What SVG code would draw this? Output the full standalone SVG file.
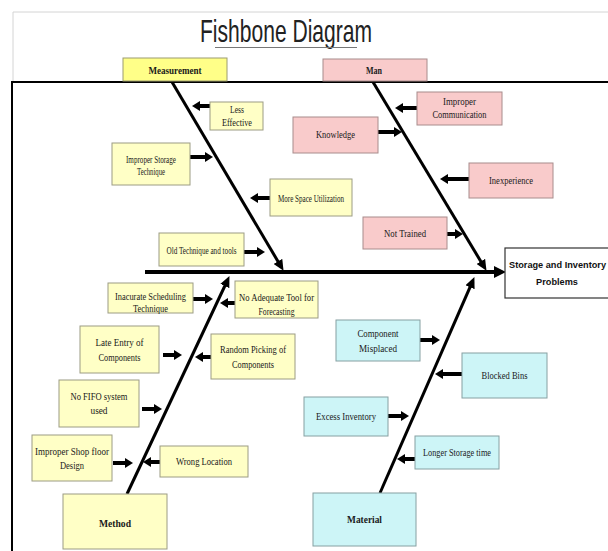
<svg xmlns="http://www.w3.org/2000/svg" width="608" height="551" viewBox="0 0 608 551">
<style>
.yb{fill:#FFFFC6;stroke:#9c9c84;stroke-width:1}
.ym{fill:#FFFF88;stroke:#9c9c70;stroke-width:1}
.pb{fill:#F9CBCB;stroke:#a88c8c;stroke-width:1}
.cb{fill:#CDF5F7;stroke:#86a0a2;stroke-width:1}
.wb{fill:#fff;stroke:#333;stroke-width:1.2}
.t{font-family:'Liberation Serif','Times New Roman',serif;font-size:10px;fill:#1a1a1a;text-anchor:middle}
.tb{font-weight:bold;font-size:11px}
.ts{font-family:'Liberation Sans',Arial,sans-serif;font-weight:bold;font-size:9.2px;fill:#111}
.spine{stroke:#000;stroke-width:3;fill:none;marker-end:url(#sh)}
.arr{stroke:#000;stroke-width:4;fill:none;marker-end:url(#ah)}
</style>
<defs>
<marker id="ah" markerUnits="userSpaceOnUse" viewBox="0 0 8 10" markerWidth="8" markerHeight="10" refX="4" refY="5" orient="auto"><path d="M0,0 L8,5 L0,10 z" fill="#000"/></marker>
<marker id="sh" markerUnits="userSpaceOnUse" viewBox="0 0 11 10" markerWidth="11" markerHeight="10" refX="5" refY="5" orient="auto"><path d="M0,0 L11,5 L0,10 z" fill="#000"/></marker>
<marker id="mh" markerUnits="userSpaceOnUse" viewBox="0 0 12 12" markerWidth="12" markerHeight="12" refX="6" refY="6" orient="auto"><path d="M0,0 L12,6 L0,12 z" fill="#000"/></marker>
</defs>
<rect width="608" height="551" fill="#fff"/>
<path d="M13,82 V12 H608" fill="none" stroke="#d4d4d4" stroke-width="1"/>
<g id="title">
<text x="200" y="42" textLength="172" lengthAdjust="spacingAndGlyphs" font-family="'Liberation Sans',Arial,sans-serif" font-size="32" fill="#222">Fishbone Diagram</text>
<line x1="215" y1="47.5" x2="357" y2="47.5" stroke="#777" stroke-width="1"/>
</g>
<path id="frame" d="M12,551 V82 H608" fill="none" stroke="#000" stroke-width="2"/>
<g id="connectors">
<line x1="145" y1="272" x2="500" y2="272" stroke="#000" stroke-width="4" marker-end="url(#mh)"/>
<line class="spine" x1="172" y1="82" x2="280.5" y2="265.7"/>
<line class="spine" x1="373" y1="82" x2="483.4" y2="265.7"/>
<line class="spine" x1="127" y1="494" x2="226.9" y2="281.5"/>
<line class="spine" x1="380" y1="493" x2="472" y2="282.6"/>
<line class="arr" x1="210" y1="106" x2="196" y2="106"/>
<line class="arr" x1="190" y1="157" x2="209" y2="157"/>
<line class="arr" x1="270" y1="198" x2="254" y2="198"/>
<line class="arr" x1="244" y1="252" x2="261" y2="252"/>
<line class="arr" x1="417" y1="108" x2="399" y2="108"/>
<line class="arr" x1="378" y1="132" x2="398" y2="132"/>
<line class="arr" x1="469" y1="179" x2="444" y2="179"/>
<line class="arr" x1="447" y1="234" x2="459" y2="234"/>
<line class="arr" x1="193" y1="299" x2="209" y2="299"/>
<line class="arr" x1="235" y1="303" x2="224" y2="303"/>
<line class="arr" x1="163" y1="355" x2="178" y2="355"/>
<line class="arr" x1="211" y1="357" x2="199" y2="357"/>
<line class="arr" x1="142" y1="409" x2="158" y2="409"/>
<line class="arr" x1="113" y1="463" x2="129" y2="463"/>
<line class="arr" x1="160" y1="462" x2="147" y2="462"/>
<line class="arr" x1="420" y1="340" x2="436" y2="340"/>
<line class="arr" x1="462" y1="374" x2="439" y2="374"/>
<line class="arr" x1="388" y1="416" x2="405" y2="416"/>
<line class="arr" x1="415" y1="459" x2="401" y2="459"/>
</g>
<g id="measurement"><rect class="ym" x="123" y="58" width="104" height="23"/><text class="t tb" x="175" y="74" textLength="53" lengthAdjust="spacingAndGlyphs">Measurement</text></g>
<g id="man"><rect class="pb" x="323" y="59" width="104" height="22"/><text class="t tb" x="374" y="74" textLength="16" lengthAdjust="spacingAndGlyphs">Man</text></g>
<g id="less-effective"><rect class="yb" x="210" y="102" width="53" height="28"/><text class="t" x="237" y="113" textLength="14" lengthAdjust="spacingAndGlyphs">Less</text><text class="t" x="237" y="126" textLength="30" lengthAdjust="spacingAndGlyphs">Effective</text></g>
<g id="improper-storage"><rect class="yb" x="112" y="143" width="78" height="42"/><text class="t" x="151" y="163" textLength="50" lengthAdjust="spacingAndGlyphs">Improper Storage</text><text class="t" x="151" y="175" textLength="28" lengthAdjust="spacingAndGlyphs">Technique</text></g>
<g id="more-space"><rect class="yb" x="270" y="179" width="82" height="37"/><text class="t" x="311" y="202" textLength="66" lengthAdjust="spacingAndGlyphs">More Space Utilization</text></g>
<g id="old-technique"><rect class="yb" x="159" y="233" width="85" height="33"/><text class="t" x="201.5" y="254" textLength="70" lengthAdjust="spacingAndGlyphs">Old Technique and tools</text></g>
<g id="improper-communication"><rect class="pb" x="417" y="92" width="85" height="33"/><text class="t" x="459.5" y="105" textLength="33" lengthAdjust="spacingAndGlyphs">Improper</text><text class="t" x="459.5" y="118" textLength="54" lengthAdjust="spacingAndGlyphs">Communication</text></g>
<g id="knowledge"><rect class="pb" x="293" y="117" width="85" height="36"/><text class="t" x="335.5" y="138" textLength="39" lengthAdjust="spacingAndGlyphs">Knowledge</text></g>
<g id="inexperience"><rect class="pb" x="469" y="163" width="84" height="35"/><text class="t" x="511" y="184" textLength="44" lengthAdjust="spacingAndGlyphs">Inexperience</text></g>
<g id="not-trained"><rect class="pb" x="363" y="217" width="84" height="32"/><text class="t" x="405" y="237" textLength="42" lengthAdjust="spacingAndGlyphs">Not Trained</text></g>
<g id="problem"><rect class="wb" x="505" y="248" width="115" height="50"/><text class="ts" x="509" y="268">Storage and Inventory</text><text class="ts" x="557" y="285" text-anchor="middle">Problems</text></g>
<g id="inacurate-scheduling"><rect class="yb" x="108" y="283" width="85" height="30"/><text class="t" x="150.5" y="300" textLength="71" lengthAdjust="spacingAndGlyphs">Inacurate Scheduling</text><text class="t" x="150.5" y="311.5" textLength="35" lengthAdjust="spacingAndGlyphs">Technique</text></g>
<g id="no-adequate-tool"><rect class="yb" x="235" y="281" width="83" height="37"/><text class="t" x="276.5" y="301" textLength="75" lengthAdjust="spacingAndGlyphs">No Adequate Tool for</text><text class="t" x="276.5" y="315" textLength="36" lengthAdjust="spacingAndGlyphs">Forecasting</text></g>
<g id="late-entry"><rect class="yb" x="80" y="326" width="79" height="47"/><text class="t" x="119.5" y="346" textLength="48" lengthAdjust="spacingAndGlyphs">Late Entry of</text><text class="t" x="119.5" y="361" textLength="42" lengthAdjust="spacingAndGlyphs">Components</text></g>
<g id="random-picking"><rect class="yb" x="211" y="334" width="84" height="45"/><text class="t" x="253" y="353" textLength="66" lengthAdjust="spacingAndGlyphs">Random Picking of</text><text class="t" x="253" y="368" textLength="42" lengthAdjust="spacingAndGlyphs">Components</text></g>
<g id="no-fifo"><rect class="yb" x="59" y="380" width="80" height="47"/><text class="t" x="99" y="400" textLength="57" lengthAdjust="spacingAndGlyphs">No FIFO system</text><text class="t" x="99" y="414" textLength="17" lengthAdjust="spacingAndGlyphs">used</text></g>
<g id="improper-shop-floor"><rect class="yb" x="32" y="435" width="80" height="46"/><text class="t" x="72" y="455" textLength="74" lengthAdjust="spacingAndGlyphs">Improper Shop floor</text><text class="t" x="72" y="469" textLength="24" lengthAdjust="spacingAndGlyphs">Design</text></g>
<g id="wrong-location"><rect class="yb" x="160" y="446" width="88" height="31"/><text class="t" x="204" y="465" textLength="56" lengthAdjust="spacingAndGlyphs">Wrong Location</text></g>
<g id="method"><rect class="yb" x="63" y="494" width="104" height="55"/><text class="t tb" x="115" y="527" textLength="32" lengthAdjust="spacingAndGlyphs">Method</text></g>
<g id="component-misplaced"><rect class="cb" x="336" y="320" width="84" height="41"/><text class="t" x="378" y="337" textLength="41" lengthAdjust="spacingAndGlyphs">Component</text><text class="t" x="378" y="352" textLength="38" lengthAdjust="spacingAndGlyphs">Misplaced</text></g>
<g id="blocked-bins"><rect class="cb" x="462" y="353" width="85" height="45"/><text class="t" x="504.5" y="379" textLength="46" lengthAdjust="spacingAndGlyphs">Blocked Bins</text></g>
<g id="excess-inventory"><rect class="cb" x="304" y="397" width="84" height="39"/><text class="t" x="346" y="420" textLength="60" lengthAdjust="spacingAndGlyphs">Excess Inventory</text></g>
<g id="longer-storage"><rect class="cb" x="415" y="436" width="84" height="33"/><text class="t" x="457" y="456" textLength="68" lengthAdjust="spacingAndGlyphs">Longer Storage time</text></g>
<g id="material"><rect class="cb" x="313" y="493" width="103" height="53"/><text class="t tb" x="364.5" y="523" textLength="35" lengthAdjust="spacingAndGlyphs">Material</text></g>
</svg>
